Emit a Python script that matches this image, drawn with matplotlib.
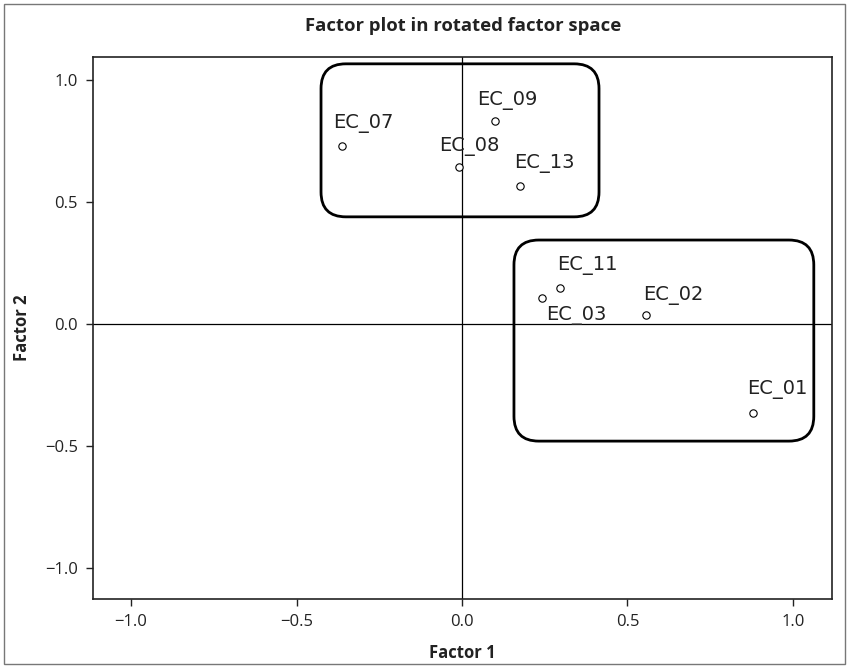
import matplotlib
matplotlib.use("Agg")
import matplotlib.pyplot as plt
from matplotlib.patches import FancyBboxPatch, Rectangle

plt.rcParams['font.family'] = ['Open Sans', 'DejaVu Sans']

labels = ["EC_07", "EC_08", "EC_09", "EC_13", "EC_11", "EC_03", "EC_02", "EC_01"]
factor1 = [-0.363, -0.009, 0.100, 0.175, 0.296, 0.242, 0.556, 0.879]
factor2 = [0.730, 0.643, 0.832, 0.566, 0.148, 0.107, 0.037, -0.365]

ticks = [-1.0, -0.5, 0.0, 0.5, 1.0]
tick_labels = ["\u22121.0", "\u22120.5", "0.0", "0.5", "1.0"]

# label offsets in points (placement only)
offsets = {"EC_07": (-6, 16), "EC_08": (-14, 15), "EC_09": (-13, 15), "EC_13": (-4, 16),
           "EC_11": (-2, 16), "EC_03": (3, -13), "EC_02": (-2, 14), "EC_01": (-4, 17)}

# grouping boxes (x0, y0, x1, y1) in data units
groups = [(-0.426, 0.439, 0.414, 1.066), (0.157, -0.480, 1.063, 0.344)]

fig = plt.figure(figsize=(8.49, 6.68), dpi=100)
ax = fig.add_axes([93/849, 1-599/668, (832-93)/849, (599-57)/668])

ax.set_xlim(-1.115, 1.118)
ax.set_ylim(-1.127, 1.094)

ax.axhline(0, color='black', lw=0.9, zorder=1)
ax.axvline(0, color='black', lw=0.9, zorder=1)

ax.scatter(factor1, factor2, s=28, facecolors='white', edgecolors='black', linewidths=0.8, zorder=3)
for lab, x, y in zip(labels, factor1, factor2):
    dx, dy = offsets[lab]
    ax.annotate(lab, (x, y), xytext=(dx, dy), textcoords='offset points',
                ha='left', va='center', fontsize=14, color='#222222', zorder=4,
                family=['DejaVu Sans'])

aspect = 331 / 244  # px per x-unit / px per y-unit
pad = 0.075
for x0, y0, x1, y1 in groups:
    patch = FancyBboxPatch((x0 + pad, y0 + pad * aspect), (x1 - x0) - 2 * pad, (y1 - y0) - 2 * pad * aspect,
                           boxstyle=f"round,pad={pad}", mutation_aspect=aspect,
                           fill=False, edgecolor='black', lw=2.0, zorder=2)
    ax.add_patch(patch)

ax.set_xticks(ticks)
ax.set_xticklabels(tick_labels)
ax.set_yticks(ticks)
ax.set_yticklabels(tick_labels)
ax.tick_params(direction='out', length=5, width=1, labelsize=12, colors='#222222', pad=6)
for s in ax.spines.values():
    s.set_linewidth(1.2)
    s.set_color('#222222')

ax.set_xlabel("Factor 1", fontsize=12, fontweight='bold', labelpad=10, color='#222222')
ax.set_ylabel("Factor 2", fontsize=12, fontweight='bold', labelpad=10, color='#222222')
fig.text(463/849, 1-26/668, "Factor plot in rotated factor space", ha='center', va='center',
         fontsize=13.3, fontweight='bold', color='#222222')

fig.patches.append(Rectangle((4/849, 1-664/668), (845-4)/849, (664-4)/668, transform=fig.transFigure,
                             fill=False, edgecolor='#777777', lw=1.0))

fig.savefig("out.png", dpi=100)
